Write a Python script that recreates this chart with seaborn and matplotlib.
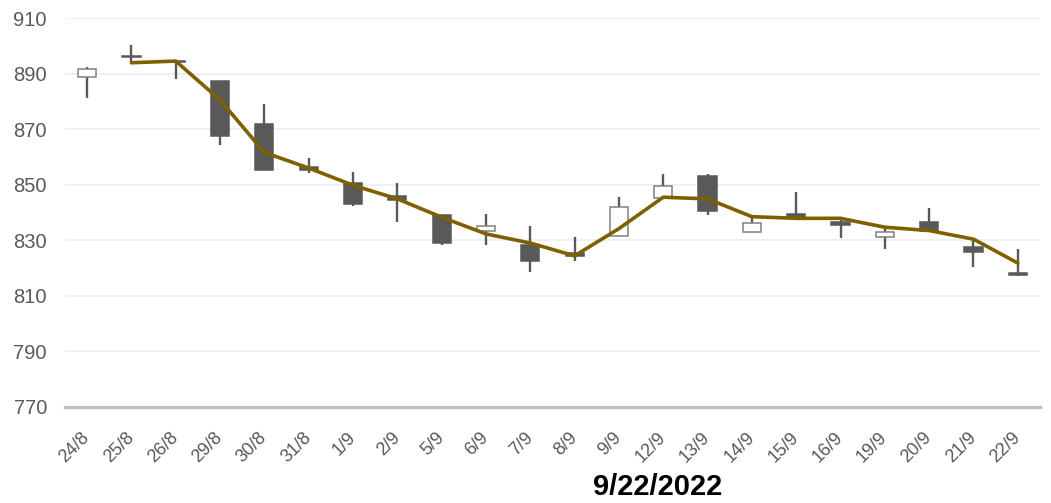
import numpy as np
import pandas as pd
import matplotlib
matplotlib.use("Agg")
import matplotlib.pyplot as plt
import seaborn as sns

# Daily prices (24/8 – 22/9)
dates = ['24/8', '25/8', '26/8', '29/8', '30/8', '31/8', '1/9', '2/9', '5/9', '6/9', '7/9',
         '8/9', '9/9', '12/9', '13/9', '14/9', '15/9', '16/9', '19/9', '20/9', '21/9', '22/9']
open_px = [888.8, 896.3, 894.5, 887.5, 871.9, 856.4, 850.7, 846.0, 839.0, 833.5, 828.4,
           825.4, 831.6, 845.2, 853.2, 833.0, 839.6, 836.4, 831.0, 836.4, 827.5, 818.4]
close_px = [891.7, 895.8, 894.0, 867.6, 855.3, 855.4, 843.1, 844.4, 829.0, 835.0, 822.6,
            824.2, 841.9, 849.7, 840.6, 836.3, 838.3, 835.5, 833.0, 833.5, 825.8, 817.4]
high_px = [892.4, 900.3, 894.6, 887.5, 879.1, 859.6, 854.5, 850.5, 839.0, 839.5, 835.2,
           831.3, 845.5, 853.9, 854.0, 838.3, 847.4, 838.0, 834.9, 841.5, 830.1, 826.9]
low_px = [881.2, 894.2, 888.0, 864.3, 855.3, 854.2, 842.4, 836.7, 828.4, 828.3, 818.5,
          822.6, 831.6, 845.0, 839.1, 832.9, 838.0, 830.8, 826.9, 833.3, 820.5, 817.3]
# Two-day moving average
ma_px = [np.nan, 893.9, 894.5, 880.5, 861.6, 856.0, 849.8, 844.9, 838.3, 832.3, 829.0,
         824.4, 834.2, 845.5, 844.9, 838.5, 837.9, 837.9, 834.7, 833.5, 830.4, 821.8]
y_ticks = [770, 790, 810, 830, 850, 870, 890, 910]
title = '9/22/2022'

df = pd.DataFrame({'date': dates, 'open': open_px, 'close': close_px,
                   'high': high_px, 'low': low_px, 'ma': ma_px})
df['pos'] = np.arange(len(df))

sns.set_theme(style="white")
tick_font = ['Liberation Sans Narrow', 'Liberation Sans', 'DejaVu Sans']
plt.rcParams['font.family'] = tick_font

fig = plt.figure(figsize=(10.51, 5.03), dpi=100)
ax = fig.add_axes([0.0618, 0.1909, 0.9277, 0.7733])

dark = '#595959'
up = df['close'] >= df['open']

# wicks
ax.vlines(df['pos'], df['low'], df['high'], color=dark, linewidth=1.7, zorder=2)
# bodies
body_bottom = np.minimum(df['open'], df['close'])
body_height = np.abs(df['close'] - df['open'])
ax.bar(df['pos'][~up], body_height[~up], bottom=body_bottom[~up], width=0.41,
       color=dark, edgecolor=dark, linewidth=1.1, zorder=3)
ax.bar(df['pos'][up], body_height[up], bottom=body_bottom[up], width=0.41,
       color='white', edgecolor='#808080', linewidth=1.1, zorder=3)

# moving average
sns.lineplot(data=df, x='pos', y='ma', ax=ax, color='#7f6000', linewidth=2.6, zorder=4)

ax.set_xlim(-0.5, len(df) - 0.5)
ax.set_ylim(770, 910)
ax.set_yticks(y_ticks)
ax.set_yticklabels([str(v) for v in y_ticks])
ax.set_xticks(df['pos'])
ax.set_xticklabels(df['date'], rotation=45, ha='right', va='center', rotation_mode='anchor')
ax.set_xlabel('')
ax.set_ylabel('')

ax.grid(axis='y', color='#efefef', linewidth=1.3, zorder=0)
ax.set_axisbelow(True)
for s in ['top', 'right', 'left']:
    ax.spines[s].set_visible(False)
ax.spines['bottom'].set_color('#bfbfbf')
ax.spines['bottom'].set_linewidth(2.4)
ax.tick_params(axis='y', length=0, pad=13, labelsize=14.5, labelcolor='#595959')
ax.tick_params(axis='x', length=0, pad=20, labelsize=13, labelcolor='#595959')

fig.text(0.626, 0.016, title, ha='center', va='baseline', fontsize=21,
         fontweight='bold', color='black', family=['Liberation Sans', 'DejaVu Sans'])

fig.savefig('out.png', dpi=100)
